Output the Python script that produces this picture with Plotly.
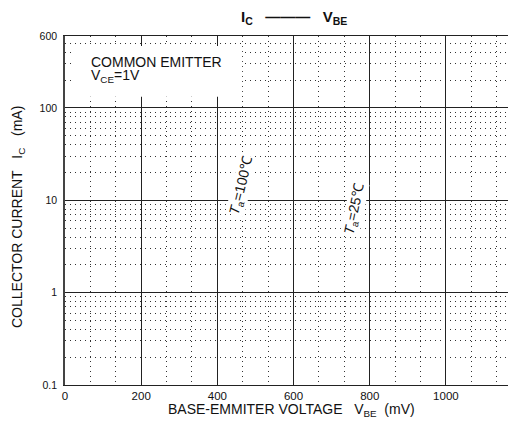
import math
import plotly.graph_objects as go

FONT = "Liberation Sans, Arial, sans-serif"

# ---- axis definitions ----
x_range_max = 1184          # plot is cut at the right window edge
x_major = [0, 200, 400, 600, 800, 1000]
x_major_labels = ["0", "200", "400", "600", "800", "1000"]
x_cut_tick = 1200           # only partly visible at the right edge
x_minor_step = 200 / 3

y_major = [0.1, 1, 10, 100, 600]
y_major_labels = ["0.1", "1", "10", "100", "600"]
y_minor = [k * 10 ** e for e in range(-1, 3) for k in range(2, 10) if k * 10 ** e <= 600]

# ---- curve labels (no curves printed in the reference) ----
curve_labels = ["<i>T</i><sub>a</sub>=100\u2103", "<i>T</i><sub>a</sub>=25\u2103"]
curve_label_x = [465, 761]
curve_label_y = [14.5, 8.0]
curve_label_angle = [-76, -78]

# ---- condition box ----
cond_lines = ["COMMON EMITTER", "V<sub>CE</sub>=1V"]
cond_x = 63
cond_y = [316, 222]
box_x = [18, 465]
box_y = [132, 468]

fig = go.Figure()
fig.add_trace(go.Scatter(x=[], y=[], mode="lines", showlegend=False))

grid_col = "#333"
fig.update_xaxes(
    range=[0, x_range_max], automargin=False,
    tickmode="array", tickvals=x_major, ticktext=x_major_labels,
    showgrid=True, gridcolor="#222", gridwidth=1,
    minor=dict(tick0=0, dtick=x_minor_step, showgrid=True, gridcolor=grid_col,
               griddash="1px,4px", gridwidth=1, ticks=""),
    showline=True, linecolor="#222", linewidth=1, mirror=True,
    ticks="", zeroline=False,
    tickfont=dict(family=FONT, size=11.5, color="#111"),
)
fig.update_yaxes(
    type="log", range=[-1, math.log10(600)], automargin=False,
    tickmode="array", tickvals=y_major, ticktext=y_major_labels,
    showgrid=True, gridcolor="#222", gridwidth=1,
    minor=dict(tickmode="array", tickvals=y_minor, showgrid=True, gridcolor=grid_col,
               griddash="1px,4px", gridwidth=1, ticks=""),
    showline=True, linecolor="#444", linewidth=1.5, mirror=True,
    ticks="", zeroline=False,
    tickfont=dict(family=FONT, size=10.5, color="#111"),
    ticklabelstandoff=4,
)

# axis titles as annotations (fixed placement)
fig.add_annotation(x=(291 - 65) / 451, y=0, xref="paper", yref="paper",
                   text="BASE-EMMITER VOLTAGE\u00a0\u00a0\u00a0V<sub>BE</sub>\u00a0\u00a0(mV)",
                   showarrow=False, xanchor="center", yanchor="middle", yshift=-25,
                   font=dict(family=FONT, size=14, color="#111"))
fig.add_annotation(x=0, y=(385 - 217) / 349, xref="paper", yref="paper",
                   text="COLLECTOR CURRENT\u00a0\u00a0\u00a0I<sub>C</sub>\u00a0\u00a0\u00a0(mA)",
                   showarrow=False, textangle=-90, xanchor="center", yanchor="middle",
                   xshift=-47,
                   font=dict(family=FONT, size=14, color="#111"))

# white condition box
fig.add_shape(type="rect", xref="x", yref="y", x0=box_x[0], x1=box_x[1],
              y0=box_y[0], y1=box_y[1], fillcolor="white", line=dict(width=0),
              layer="above")
for txt, yy in zip(cond_lines, cond_y):
    fig.add_annotation(x=cond_x, y=math.log10(yy), xref="x", yref="y", text=txt,
                       showarrow=False, xanchor="left", yanchor="middle",
                       font=dict(family=FONT, size=14, color="#111"))

for txt, xx, yy, ang in zip(curve_labels, curve_label_x, curve_label_y, curve_label_angle):
    fig.add_annotation(x=xx, y=math.log10(yy), xref="x", yref="y", text=txt,
                       showarrow=False, textangle=ang, bgcolor="white", borderpad=0,
                       font=dict(family=FONT, size=14, color="#111"))

# partly visible 1200 tick label at the right edge
fig.add_annotation(x=x_cut_tick / x_range_max, y=0, xref="paper", yref="paper",
                   text=str(x_cut_tick), showarrow=False, xanchor="center",
                   yanchor="middle", yshift=-12,
                   font=dict(family=FONT, size=11.5, color="#111"))

fig.add_annotation(x=(x_cut_tick / x_range_max) / 2, y=1, xref="paper", yref="paper",
                   text="<b>I<sub>C</sub>\u00a0\u00a0\u00a0———\u00a0\u00a0\u00a0V<sub>BE</sub></b>",
                   showarrow=False, xanchor="center", yanchor="middle", yshift=19,
                   font=dict(family=FONT, size=15, color="#111"))

# the page body adds an 8px offset, so the figure is 8px smaller on each side
fig.update_layout(
    width=508, height=422,
    margin=dict(l=57, r=0, t=28, b=45),
    paper_bgcolor="white", plot_bgcolor="white",
    showlegend=False,
)

fig.write_html("out.html")
